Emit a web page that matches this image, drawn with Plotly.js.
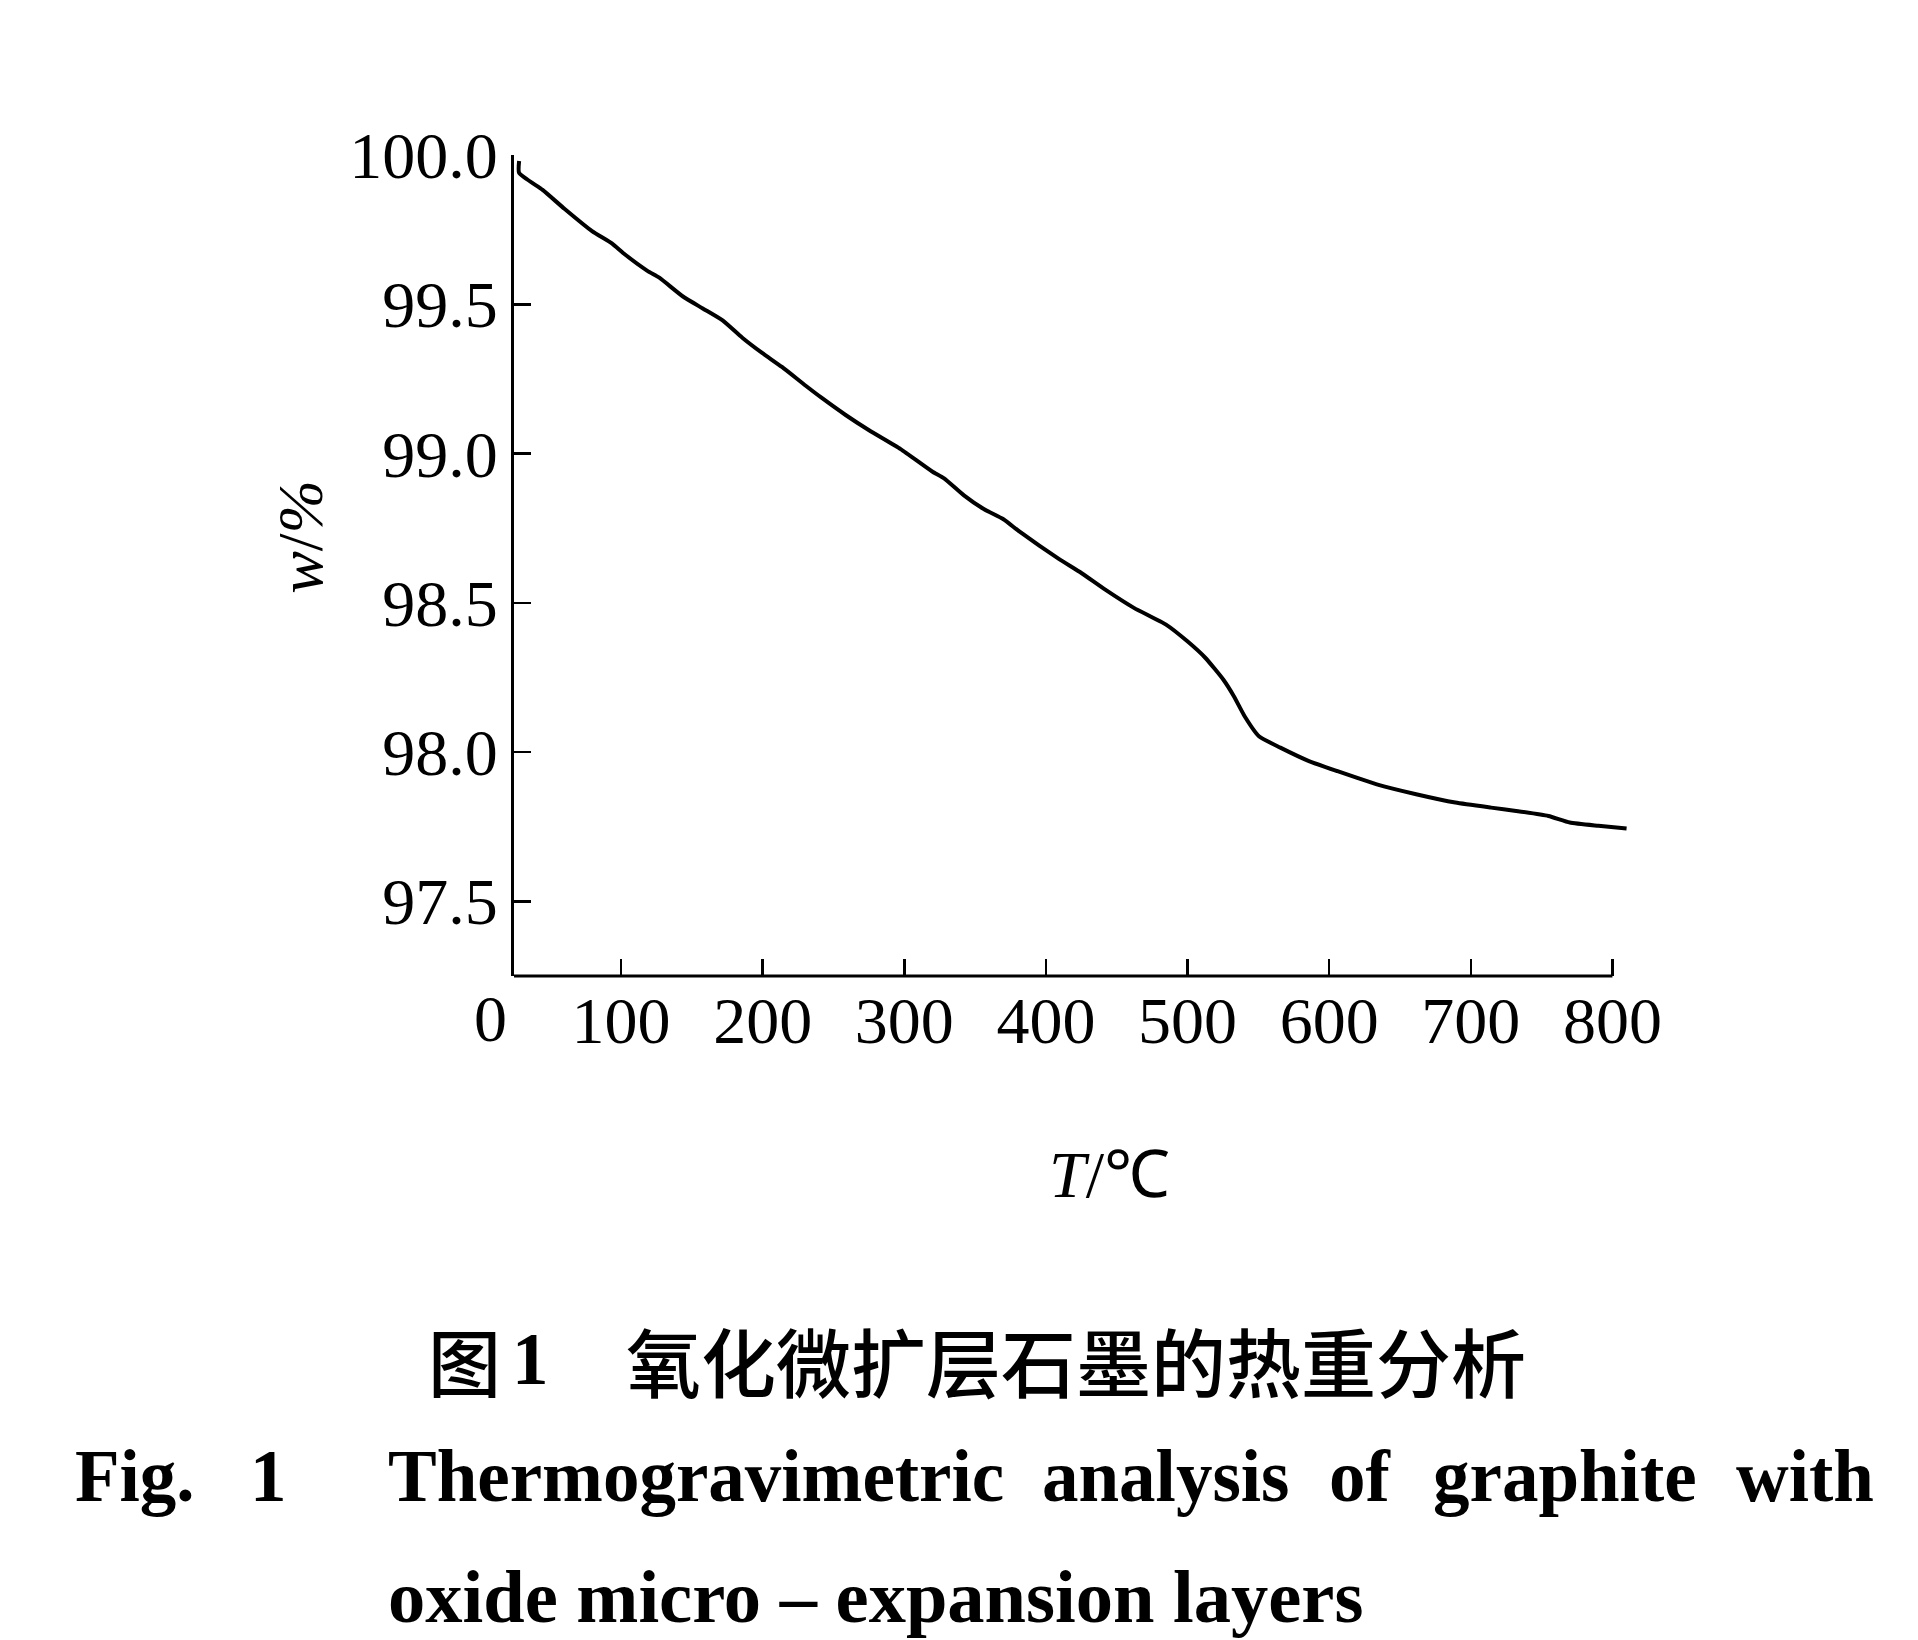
<!DOCTYPE html>
<html>
<head>
<meta charset="utf-8">
<script src="https://cdn.plot.ly/plotly-3.0.1.min.js"></script>
<style>html,body{margin:0;padding:0;background:#fff;}#chart{width:1918px;height:1640px;}</style>
</head>
<body>
<div id="chart"></div>
<script>
// ---- data ----
const temperature = [28, 28, 44.6, 60, 79.5, 93.5, 101.9, 118.6, 127, 143.7, 157.7, 171.7, 185.6, 199.6, 213.6, 230.4, 241.5, 258.3, 275.1, 297.4, 319.7, 328.1, 342.1, 356.1, 370, 381.2, 409.1, 425, 441.9, 462.1, 484.8, 499.9, 512.5, 525.2, 532.7, 540.3, 550.4, 565.5, 585.7, 605.9, 633.6, 661.4, 689.1, 714.3, 732, 754.8, 769.9, 790.1, 810];
const massPct = [99.98, 99.94, 99.883, 99.82, 99.745, 99.704, 99.67, 99.612, 99.589, 99.526, 99.486, 99.446, 99.388, 99.337, 99.29, 99.227, 99.187, 99.13, 99.078, 99.015, 98.94, 98.917, 98.86, 98.814, 98.78, 98.739, 98.647, 98.6, 98.544, 98.483, 98.427, 98.371, 98.316, 98.243, 98.187, 98.12, 98.053, 98.015, 97.97, 97.936, 97.892, 97.859, 97.831, 97.814, 97.803, 97.786, 97.764, 97.753, 97.744];
const xTickVals = [100, 200, 300, 400, 500, 600, 700, 800];
const yTickVals = [97.5, 98.0, 98.5, 99.0, 99.5, 100.0];
const xRange = [24.4, 811];
const yRange = [97.25, 100.0];
const xAxisEnd = 800;
const xTitle = '<i>T</i>/℃';
const yTitle = '<i>w</i>/<i>%</i>';
const originLabel = '0';
const captionCN1 = '图';
const captionCN2 = '1';
const captionCN3 = '氧化微扩层石墨的热重分析';
const captionEN = ['Fig.', '1', 'Thermogravimetric', 'analysis', 'of', 'graphite', 'with'];
const captionEN2 = 'oxide micro – expansion layers';

// ---- layout geometry (pixels) ----
const W = 1918, H = 1640;
const L = 514, R = 1627.6, T = 154.7, B = 976.5;
const px = v => (v - L) / (R - L);
const py = v => (B - v) / (B - T);
const serif = 'Liberation Serif, Times New Roman, serif';
const cjk = 'Noto Sans CJK SC, sans-serif';

const trace = {
  x: temperature, y: massPct, type: 'scatter', mode: 'lines',
  line: {color: '#000', width: 4, shape: 'spline', smoothing: 0.5},
  hoverinfo: 'skip', showlegend: false
};

function ann(text, x, y, size, opts) {
  return Object.assign({
    text: text, xref: 'paper', yref: 'paper', x: px(x), y: py(y),
    xanchor: 'center', yanchor: 'middle', showarrow: false,
    font: {family: serif, size: size, color: '#000'}
  }, opts || {});
}

const enX = [76, 251, 389, 1043, 1330, 1434, 1737];
const annotations = [
  ann(yTitle, 301, 537, 64, {textangle: -90}),
  ann(xTitle, 1109, 1175, 66),
  ann(originLabel, 491, 1019, 66),
  ann(captionCN1, 426, 1360, 73, {xanchor: 'left', font: {family: cjk, size: 73, color: '#000', weight: 500}}),
  ann(captionCN2, 510, 1360, 73, {xanchor: 'left', font: {family: serif, size: 73, color: '#000', weight: 700}}),
  ann(captionCN3, 624, 1360, 75, {xanchor: 'left', font: {family: cjk, size: 75, color: '#000', weight: 500}}),
  ann(captionEN2, 386, 1598, 74.5, {xanchor: 'left', font: {family: serif, size: 74.5, color: '#000', weight: 700}})
];
captionEN.forEach((w, i) => {
  annotations.push(ann(w, enX[i] - 3, 1477, 73, {xanchor: 'left', font: {family: serif, size: 73, color: '#000', weight: 700}}));
});

const layout = {
  width: W, height: H,
  margin: {l: L, r: W - R, t: T, b: H - B, pad: 0},
  paper_bgcolor: '#fff', plot_bgcolor: '#fff',
  font: {family: serif, color: '#000', size: 66},
  showlegend: false,
  xaxis: {
    range: xRange, tickvals: xTickVals, ticktext: xTickVals.map(String),
    ticks: 'inside', ticklen: 17, tickwidth: 2.6, tickcolor: '#000',
    showline: false, showgrid: false, zeroline: false,
    tickfont: {family: serif, size: 66, color: '#000'},
    ticklabelstandoff: 0, fixedrange: true
  },
  yaxis: {
    range: yRange, tickvals: yTickVals, tickformat: '.1f',
    ticks: 'inside', ticklen: 17, tickwidth: 2.6, tickcolor: '#000',
    showline: true, linecolor: '#000', linewidth: 3,
    showgrid: false, zeroline: false,
    tickfont: {family: serif, size: 66, color: '#000'},
    ticklabelstandoff: 0, fixedrange: true
  },
  shapes: [{
    type: 'line', xref: 'x', yref: 'paper', x0: xRange[0], x1: xAxisEnd, y0: 0, y1: 0,
    line: {color: '#000', width: 3}
  }],
  annotations: annotations
};

Plotly.newPlot('chart', [trace], layout, {staticPlot: true, displayModeBar: false});
</script>
</body>
</html>
